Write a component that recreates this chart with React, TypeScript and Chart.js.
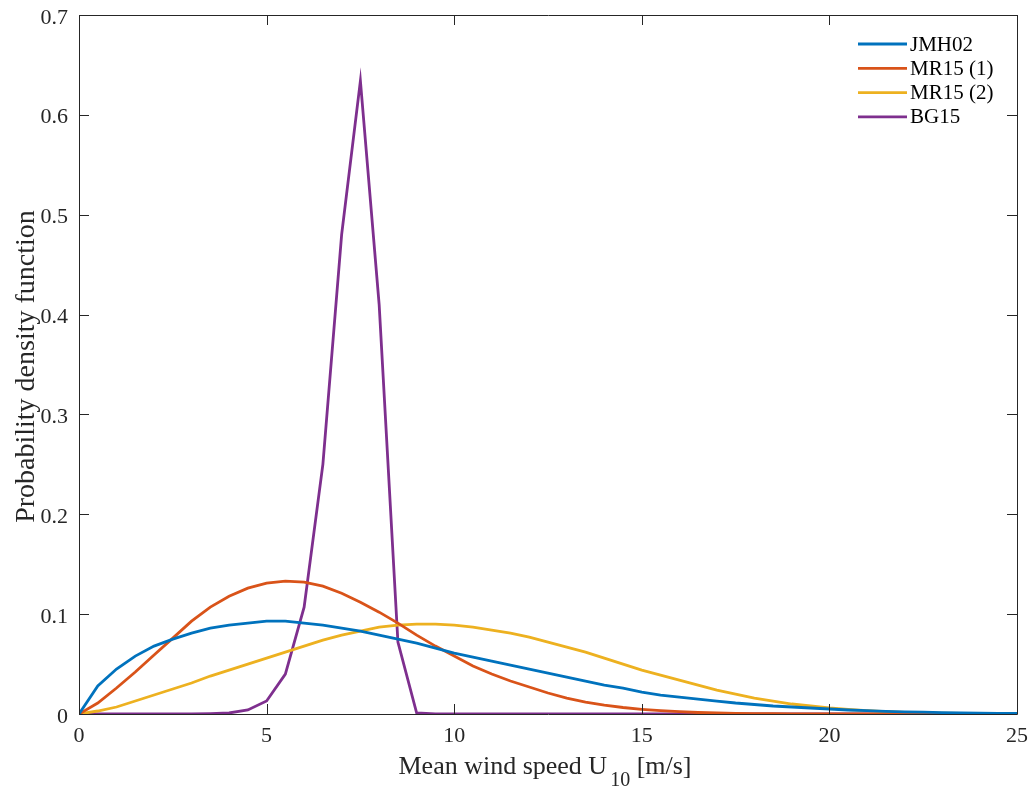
import React, { useEffect, useRef } from "react";
import { Chart, registerables } from "chart.js";

Chart.register(...registerables);

const xValues = [
  0, 0.5, 1, 1.5, 2, 2.5, 3, 3.5, 4, 4.5, 5, 5.5, 6, 6.5, 7, 7.5, 8, 8.5, 9, 9.5,
  10, 10.5, 11, 11.5, 12, 12.5, 13, 13.5, 14, 14.5, 15, 15.5, 16, 16.5, 17, 17.5,
  18, 18.5, 19, 19.5, 20, 20.5, 21, 21.5, 22, 22.5, 23, 23.5, 24, 24.5, 25,
];

const jmh02 = [
  0, 0.028, 0.045, 0.058, 0.068, 0.075, 0.081, 0.086, 0.089, 0.091, 0.093, 0.093,
  0.091, 0.089, 0.086, 0.083, 0.079, 0.075, 0.071, 0.066, 0.061, 0.057, 0.053,
  0.049, 0.045, 0.041, 0.037, 0.033, 0.029, 0.026, 0.022, 0.019, 0.017, 0.015,
  0.013, 0.011, 0.0095, 0.008, 0.007, 0.006, 0.005, 0.004, 0.0033, 0.0027, 0.0022,
  0.0018, 0.0014, 0.0011, 0.0009, 0.0007, 0.0005,
];

const mr15a = [
  0, 0.011, 0.026, 0.042, 0.059, 0.076, 0.093, 0.107, 0.118, 0.126, 0.131, 0.133,
  0.132, 0.128, 0.121, 0.112, 0.102, 0.091, 0.079, 0.068, 0.058, 0.048, 0.04,
  0.033, 0.027, 0.021, 0.016, 0.012, 0.009, 0.0065, 0.0047, 0.0033, 0.0023,
  0.0015, 0.001, 0.0007, 0.0004, 0.0003, 0.0002, 0.0001, 0.0001, 0, 0, 0, 0, 0, 0,
  0, 0, 0, 0,
];

const mr15b = [
  0, 0.003, 0.007, 0.013, 0.019, 0.025, 0.031, 0.038, 0.044, 0.05, 0.056, 0.062,
  0.068, 0.074, 0.079, 0.083, 0.087, 0.089, 0.09, 0.09, 0.089, 0.087, 0.084,
  0.081, 0.077, 0.072, 0.067, 0.062, 0.056, 0.05, 0.044, 0.039, 0.034, 0.029,
  0.024, 0.02, 0.016, 0.013, 0.01, 0.008, 0.006, 0.0045, 0.0033, 0.0024, 0.0017,
  0.0012, 0.0008, 0.0005, 0.0003, 0.0002, 0.0001,
];

const bg15 = [
  0, 0, 0, 0, 0, 0, 0, 0.0003, 0.001, 0.004, 0.013, 0.04, 0.107, 0.25, 0.48, 0.634,
  0.41, 0.072, 0.001, 0, 0, 0, 0, 0, 0, 0, 0, 0, 0, 0, 0, 0, 0, 0, 0, 0, 0, 0, 0,
  0, 0, 0, 0, 0, 0, 0, 0, 0, 0, 0, 0,
];

const seriesLabels = ["JMH02", "MR15 (1)", "MR15 (2)", "BG15"];
const seriesColors = ["#0072BD", "#D95319", "#EDB120", "#7E2F8E"];
const seriesData = [jmh02, mr15a, mr15b, bg15];

const xTicks = [0, 5, 10, 15, 20, 25];
const xTickLabels = ["0", "5", "10", "15", "20", "25"];
const yTicks = [0, 0.1, 0.2, 0.3, 0.4, 0.5, 0.6, 0.7];
const yTickLabels = ["0", "0.1", "0.2", "0.3", "0.4", "0.5", "0.6", "0.7"];

const xTitleMain = "Mean wind speed U";
const xTitleSub = "10";
const xTitleEnd = " [m/s]";
const yTitle = "Probability density function";

const FONT = "'Liberation Serif', 'Times New Roman', serif";
const AXIS_COLOR = "#262626";
const LINE_W = 2.8;

const matlabPlugin = {
  id: "matlabAxes",
  afterDraw(chart: any) {
    const { ctx, chartArea } = chart;
    const { left, right, top, bottom } = chartArea;
    const xs = chart.scales.x;
    const ys = chart.scales.y;
    ctx.save();
    ctx.strokeStyle = AXIS_COLOR;
    ctx.lineWidth = 1;
    ctx.beginPath();
    ctx.rect(Math.round(left) + 0.5, Math.round(top) + 0.5, Math.round(right - left), Math.round(bottom - top));
    ctx.stroke();
    const tl = 10;
    ctx.beginPath();
    xTicks.forEach((v) => {
      const px = Math.round(xs.getPixelForValue(v)) + 0.5;
      ctx.moveTo(px, bottom);
      ctx.lineTo(px, bottom - tl);
      ctx.moveTo(px, top);
      ctx.lineTo(px, top + tl);
    });
    yTicks.forEach((v) => {
      const py = Math.round(ys.getPixelForValue(v)) + 0.5;
      ctx.moveTo(left, py);
      ctx.lineTo(left + tl, py);
      ctx.moveTo(right, py);
      ctx.lineTo(right - tl, py);
    });
    ctx.stroke();

    // tick labels
    ctx.fillStyle = AXIS_COLOR;
    ctx.font = `22px ${FONT}`;
    ctx.textBaseline = "alphabetic";
    ctx.textAlign = "center";
    xTicks.forEach((v, i) => {
      ctx.fillText(xTickLabels[i], xs.getPixelForValue(v), bottom + 28);
    });
    ctx.textAlign = "right";
    yTicks.forEach((v, i) => {
      ctx.fillText(yTickLabels[i], left - 11, ys.getPixelForValue(v) + 8.5);
    });

    // y title
    ctx.save();
    ctx.font = `28px ${FONT}`;
    ctx.textAlign = "center";
    ctx.textBaseline = "alphabetic";
    ctx.translate(left - 45, (top + bottom) / 2 + 2);
    ctx.rotate(-Math.PI / 2);
    ctx.fillText(yTitle, 0, 0);
    ctx.restore();

    // x title with subscript
    const mainFont = `26px ${FONT}`;
    const subFont = `20px ${FONT}`;
    ctx.textAlign = "left";
    ctx.textBaseline = "alphabetic";
    ctx.font = mainFont;
    const w1 = ctx.measureText(xTitleMain).width;
    const w3 = ctx.measureText(xTitleEnd).width;
    ctx.font = subFont;
    const w2 = ctx.measureText(xTitleSub).width;
    const gap = 3;
    const total = w1 + gap + w2 + w3;
    let x = (left + right) / 2 - 3 - total / 2;
    const baseY = bottom + 59.5;
    ctx.font = mainFont;
    ctx.fillText(xTitleMain, x, baseY);
    x += w1 + gap;
    ctx.font = subFont;
    ctx.fillText(xTitleSub, x, baseY + 12.5);
    x += w2;
    ctx.font = mainFont;
    ctx.fillText(xTitleEnd, x, baseY);

    // legend
    ctx.font = `21px ${FONT}`;
    ctx.textBaseline = "middle";
    seriesLabels.forEach((lab, i) => {
      const cy = top + 29 + i * 24.3;
      ctx.strokeStyle = seriesColors[i];
      ctx.lineWidth = LINE_W;
      ctx.beginPath();
      ctx.moveTo(right - 159, cy);
      ctx.lineTo(right - 110, cy);
      ctx.stroke();
      ctx.fillStyle = "#000";
      ctx.fillText(lab, right - 107, cy + 1);
    });
    ctx.restore();
  },
};

export default function App() {
  const ref = useRef<HTMLCanvasElement>(null);
  useEffect(() => {
    if (!ref.current) return;
    const chart = new Chart(ref.current, {
      type: "line",
      data: {
        datasets: seriesLabels.map((label, i) => ({
          label,
          data: xValues.map((x, j) => ({ x, y: seriesData[i][j] })),
          borderColor: seriesColors[i],
          backgroundColor: seriesColors[i],
          borderWidth: LINE_W,
          pointRadius: 0,
          tension: 0,
          fill: false,
        })),
      },
      options: {
        animation: false,
        responsive: true,
        maintainAspectRatio: false,
        layout: { padding: { top: 15, right: 15, left: 0, bottom: 0 } },
        plugins: {
          legend: { display: false },
          tooltip: { enabled: false },
        },
        scales: {
          x: {
            type: "linear",
            min: 0,
            max: 25,
            afterBuildTicks: (s: any) => {
              s.ticks = xTicks.map((v) => ({ value: v }));
            },
            afterFit: (s: any) => {
              s.height = 73;
            },
            grid: { display: false, drawTicks: false },
            border: { display: false },
            ticks: { display: false },
            title: { display: false },
          },
          y: {
            type: "linear",
            min: 0,
            max: 0.7,
            afterBuildTicks: (s: any) => {
              s.ticks = yTicks.map((v) => ({ value: v }));
            },
            afterFit: (s: any) => {
              s.width = 79;
            },
            grid: { display: false, drawTicks: false },
            border: { display: false },
            ticks: { display: false },
            title: { display: false },
          },
        },
      },
      plugins: [matlabPlugin],
    });
    return () => chart.destroy();
  }, []);
  return (
    <div
      style={{
        position: "fixed",
        left: 0,
        top: 0,
        width: 1032,
        height: 787,
        background: "#fff",
      }}
    >
      <canvas ref={ref} />
    </div>
  );
}
